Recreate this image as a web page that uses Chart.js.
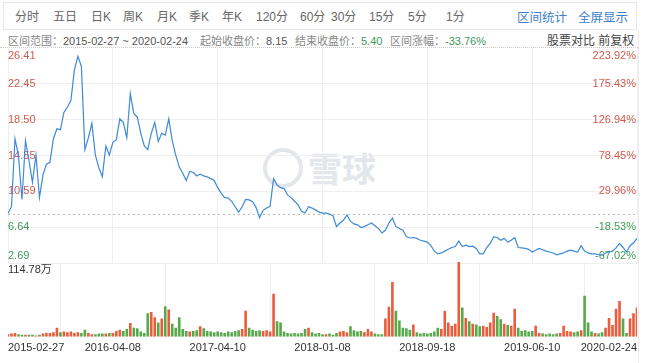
<!DOCTYPE html>
<html>
<head>
<meta charset="utf-8">
<script src="https://cdn.jsdelivr.net/npm/chart.js@4.4.1/dist/chart.umd.min.js"></script>
<style>
  body { margin: 0; background: #fff; }
  #wrap { position: relative; width: 649px; height: 363px; overflow: hidden;
          font-family: "Liberation Sans", "Noto Sans CJK SC", sans-serif; }
  .tabs { position: absolute; left: 3px; top: 2px; width: 632px; height: 26px;
          border: 1px solid #e8e8e8; }
  .t { position: absolute; top: 7px; font-size: 12px; color: #666; white-space: nowrap; }
  .t.blue { color: #3d7fd0; font-size: 12.5px; }
  .r2 { position: absolute; top: 32px; font-size: 11px; color: #888; white-space: nowrap; }
  .r2 b { font-weight: normal; color: #555; }
  .r2 .g { color: #3f9a5c; }
  .sep { position: absolute; left: 0; top: 47px; width: 638px; border-top: 1px dotted #ccc; }
  .rb { position: absolute; left: 638px; top: 30px; width: 0; height: 333px; border-left: 1px solid #eee; }
  .wm { position: absolute; left: 263px; top: 148px; width: 32px; height: 32px;
        border: 4px solid #e3e6ea; border-radius: 50%; }
  .wmt { position: absolute; left: 308px; top: 150px; font-size: 34px; color: #e3e6ea;
         font-family: "Noto Sans CJK SC", sans-serif; font-weight: bold; line-height: 36px; }
  canvas { position: absolute; left: 0; }
</style>
</head>
<body>
<div id="wrap">
  <div class="tabs"></div>
  <span class="t" style="left:15px">分时</span>
  <span class="t" style="left:53px">五日</span>
  <span class="t" style="left:91px">日K</span>
  <span class="t" style="left:123px">周K</span>
  <span class="t" style="left:157px">月K</span>
  <span class="t" style="left:189px">季K</span>
  <span class="t" style="left:222px">年K</span>
  <span class="t" style="left:256px">120分</span>
  <span class="t" style="left:300px">60分</span>
  <span class="t" style="left:331px">30分</span>
  <span class="t" style="left:369px">15分</span>
  <span class="t" style="left:408px">5分</span>
  <span class="t" style="left:446px">1分</span>
  <span class="t blue" style="left:517px">区间统计</span>
  <span class="t blue" style="left:578px">全屏显示</span>

  <span class="r2" style="left:8px">区间范围：<b>2015-02-27 ~ 2020-02-24</b></span>
  <span class="r2" style="left:200px">起始收盘价：<b>8.15</b></span>
  <span class="r2" style="left:295px">结束收盘价：<b class="g">5.40</b></span>
  <span class="r2" style="left:390px">区间涨幅：<b class="g">-33.76%</b></span>
  <span class="r2" style="left:547px;font-size:12px;color:#444;top:31px">股票对比 前复权</span>

  <div class="sep"></div>
  <div class="wm"></div>
  <div class="wmt">雪球</div>
  <canvas id="price" width="649" height="230" style="top:40px"></canvas>
  <canvas id="volume" width="649" height="101" style="top:262px"></canvas>
  <div class="rb"></div>
</div>

<script>
const basePrice = 8.15;
const tickDates = ['2015-02-27', '2016-04-08', '2017-04-10', '2018-01-08', '2018-09-18', '2019-06-10', '2020-02-24'];
const priceTicks = [26.41, 22.45, 18.50, 14.55, 10.59, 6.64, 2.69];
const pctTicks = ['223.92%', '175.43%', '126.94%', '78.45%', '29.96%', '-18.53%', '-67.02%'];
const volMax = 114.78;

const closePrices = [
  8.15, 8.9, 16.4, 14.5, 9.7, 16.2, 14.0, 11.6, 14.6, 9.9,
  12.4, 13.6, 13.8, 16.4, 17.5, 17.4, 19.3, 19.9, 20.6, 24.0,
  25.5, 24.4, 15.2, 16.5, 18.1, 14.6, 13.2, 12.2, 15.6, 14.6,
  16.0, 16.3, 18.6, 18.2, 16.5, 21.4, 19.2, 18.8, 17.0, 15.6,
  15.2, 17.0, 18.2, 16.1, 17.0, 16.8, 18.6, 16.2, 14.6, 13.3,
  12.6, 11.8, 12.8, 12.7, 12.3, 12.5, 12.3, 12.2, 12.0, 11.8,
  11.0, 10.4, 9.9, 9.85, 9.5, 8.9, 8.3, 8.9, 9.7, 9.65,
  9.45, 8.8, 7.7, 8.5, 8.75, 8.95, 12.0, 11.3, 11.0, 10.9,
  10.2, 9.9, 9.5, 9.1, 8.4, 8.2, 8.9, 8.75, 8.55, 8.3,
  8.2, 8.2, 8.1, 7.9, 6.7, 7.1, 7.4, 8.0, 7.3, 7.0,
  6.9, 6.6, 6.7, 6.9, 7.1, 6.8, 6.5, 6.0, 6.3, 7.1,
  7.65, 6.7, 6.5, 6.3, 5.6, 5.45, 5.5, 5.4, 5.2, 5.1,
  5.0, 4.6, 4.0, 3.7, 3.8, 4.0, 4.2, 4.4, 4.5, 5.1,
  4.5, 4.65, 4.5, 4.55, 4.3, 3.7, 3.7, 4.4, 4.85, 5.6,
  5.5, 5.2, 5.4, 5.0, 5.2, 5.5, 4.4, 4.35, 4.3, 4.2,
  3.9, 4.1, 4.3, 4.15, 4.0, 3.9, 3.8, 3.6, 3.7, 3.8,
  4.0, 4.1, 4.0, 3.9, 4.6, 4.0, 3.8, 3.7, 3.7, 3.6,
  3.55, 3.8, 3.9, 4.0, 4.35, 4.85, 4.4, 3.9, 4.6, 4.9,
  5.4
];

// 成交量（万）
const volumes = [
  4, 5, 6, 4, 3, 3, 3, 3, 2, 3,
  5, 6, 6, 7, 14, 7, 8, 7, 8, 6,
  7, 6, 11, 6, 4, 4, 5, 5, 5, 6,
  6, 9, 11, 9, 12, 21, 14, 13, 8, 6,
  36, 38, 30, 22, 28, 47, 42, 20, 14, 30,
  12, 9, 8, 9, 10, 16, 13, 9, 8, 7,
  8, 7, 6, 8, 7, 9, 10, 12, 40, 14,
  11, 9, 10, 9, 10, 8, 66, 24, 22, 8,
  6, 5, 6, 5, 6, 12, 14, 7, 5, 6,
  4, 4, 5, 3, 6, 8, 9, 7, 16, 10,
  8, 9, 7, 12, 8, 5, 4, 4, 28, 46,
  84, 40, 25, 14, 13, 11, 19, 7, 5, 6,
  5, 6, 8, 14, 12, 40, 22, 17, 20, 114.78,
  45, 29, 24, 20, 19, 16, 17, 15, 22, 37,
  32, 27, 20, 18, 17, 43, 14, 9, 10, 8,
  9, 17, 6, 5, 4, 5, 4, 5, 6, 17,
  9, 8, 7, 8, 10, 63, 22, 8, 6, 5,
  7, 14, 29, 18, 43, 55, 28, 6, 28, 36,
  45
];

const categories = closePrices.map((_, i) => i);
const tickEvery = (closePrices.length - 1) / (tickDates.length - 1);
const volColors = closePrices.map((p, i) => (i === 0 || p >= closePrices[i - 1]) ? 'rgba(230,75,40,0.9)' : 'rgba(70,160,55,0.9)');

const RED = '#cf5b4f', GREEN = '#3f9a5c', GRID = '#efefef';
const FONT = '"Liberation Sans", "Noto Sans CJK SC", sans-serif';

const keepDateTicks = scale => {
  scale.ticks = scale.ticks.filter(t => t.value % tickEvery === 0);
};

const priceLabels = {
  id: 'priceLabels',
  beforeDatasetsDraw(chart) {
    const { ctx, chartArea, scales: { y } } = chart;
    ctx.save();
    // 起始价虚线
    const by = y.getPixelForValue(basePrice);
    ctx.setLineDash([2, 3]);
    ctx.strokeStyle = '#bbb';
    ctx.lineWidth = 1;
    ctx.beginPath();
    ctx.moveTo(chartArea.left, Math.round(by) + 0.5);
    ctx.lineTo(chartArea.right, Math.round(by) + 0.5);
    ctx.stroke();
    ctx.setLineDash([]);

    ctx.font = '11px ' + FONT;
    const last = priceTicks.length - 1;
    priceTicks.forEach((v, i) => {
      let py = y.getPixelForValue(v);
      if (i === 0) { ctx.textBaseline = 'top'; py += 2; }
      else if (i === last) { ctx.textBaseline = 'bottom'; py -= 2; }
      else ctx.textBaseline = 'middle';
      ctx.fillStyle = v > basePrice ? RED : GREEN;
      ctx.textAlign = 'left';
      ctx.fillText(v.toFixed(2), chartArea.left, py);
      ctx.textAlign = 'right';
      ctx.fillText(pctTicks[i], chartArea.right - 1, py);
    });
    ctx.restore();
  }
};

const volLabel = {
  id: 'volLabel',
  afterDraw(chart) {
    const { ctx, chartArea } = chart;
    ctx.save();
    ctx.font = '11px ' + FONT;
    ctx.fillStyle = '#333';
    ctx.textBaseline = 'top';
    ctx.fillText(volMax + '万', chartArea.left, chartArea.top + 2);
    ctx.restore();
  }
};

new Chart(document.getElementById('price'), {
  type: 'line',
  data: {
    labels: categories,
    datasets: [{
      data: closePrices,
      borderColor: '#3d8ad6',
      borderWidth: 1.2,
      pointRadius: 0,
      tension: 0,
      fill: false
    }]
  },
  options: {
    responsive: false,
    animation: false,
    layout: { padding: { left: 8, right: 12, top: 8, bottom: 7 } },
    plugins: { legend: { display: false }, tooltip: { enabled: false } },
    scales: {
      x: {
        afterBuildTicks: keepDateTicks,
        ticks: { display: false },
        grid: { color: GRID, drawTicks: false },
        border: { display: false }
      },
      y: {
        min: priceTicks[priceTicks.length - 1],
        max: priceTicks[0],
        afterBuildTicks: scale => { scale.ticks = priceTicks.slice().reverse().map(v => ({ value: v })); },
        ticks: { display: false },
        grid: { color: c => c.tick && c.tick.value === priceTicks[0] ? 'rgba(0,0,0,0)' : GRID, drawTicks: false },
        border: { display: false }
      }
    }
  },
  plugins: [priceLabels]
});

new Chart(document.getElementById('volume'), {
  type: 'bar',
  data: {
    labels: categories,
    datasets: [{
      data: volumes,
      backgroundColor: volColors,
      barPercentage: 0.75,
      categoryPercentage: 1
    }]
  },
  options: {
    responsive: false,
    animation: false,
    layout: { padding: { left: 8, right: 12, top: 0, bottom: 3 } },
    plugins: { legend: { display: false }, tooltip: { enabled: false } },
    scales: {
      x: {
        offset: false,
        afterBuildTicks: keepDateTicks,
        ticks: {
          autoSkip: false,
          maxRotation: 0,
          align: 'inner',
          padding: 5,
          color: '#333',
          font: { size: 11, family: FONT },
          callback: v => tickDates[v / tickEvery]
        },
        grid: { color: GRID, drawTicks: false },
        border: { display: false }
      },
      y: {
        min: 0,
        max: volMax,
        display: false
      }
    }
  },
  plugins: [volLabel]
});
</script>
</body>
</html>
